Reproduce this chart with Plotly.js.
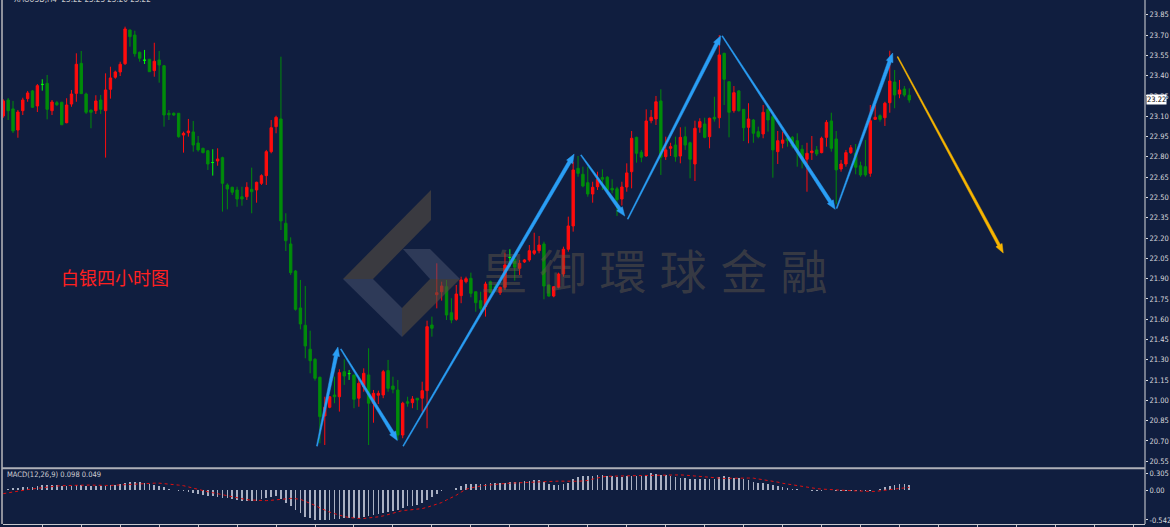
<!DOCTYPE html>
<html>
<head>
<meta charset="utf-8">
<script src="https://cdn.plot.ly/plotly-3.0.1.min.js"></script>
<style>
html,body{margin:0;padding:0;background:#101e3f;}
#chart{width:1170px;height:527px;}
</style>
</head>
<body>
<div id="chart"></div>
<script>
// ---------------- DATA (XAGUSD H4) ----------------
const openP = [23.102,23.220,23.154,22.998,23.141,23.230,23.287,23.176,23.335,23.343,
23.141,23.200,23.203,23.052,23.190,23.269,23.491,23.264,23.146,23.141,
23.220,23.141,23.299,23.388,23.427,23.488,23.737,23.700,23.573,23.514,
23.521,23.437,23.516,23.473,23.122,23.122,23.122,22.961,22.978,22.984,
22.902,22.863,22.845,22.758,22.769,22.794,22.592,22.575,22.555,22.505,
22.505,22.560,22.555,22.604,22.661,22.838,23.023,23.080,22.309,22.156,
21.956,21.683,21.555,21.378,21.304,21.171,20.885,20.949,21.040,21.027,
21.212,21.198,21.188,21.016,21.101,21.188,20.979,21.038,21.040,21.220,
21.106,21.077,20.744,20.990,20.983,21.016,21.016,21.072,21.557,21.781,
21.803,21.840,21.648,21.599,21.774,21.877,21.902,21.803,21.737,21.692,
21.877,21.840,21.796,21.836,22.056,22.043,21.976,22.023,22.038,22.087,
22.106,22.156,21.853,21.771,21.836,21.934,22.117,22.289,22.715,22.671,
22.609,22.525,22.579,22.647,22.649,22.567,22.564,22.488,22.577,22.690,
22.944,22.834,22.806,23.067,23.080,23.213,22.801,22.863,22.887,22.806,
22.949,22.904,22.747,23.018,23.043,22.949,23.092,23.089,23.565,23.355,
23.141,23.287,23.151,23.018,23.072,22.986,22.969,23.151,23.097,22.838,
22.900,22.937,22.944,22.919,22.856,22.782,22.831,22.851,22.831,22.944,
23.065,22.932,22.710,22.747,22.831,22.826,22.734,22.727,22.678,23.077,
23.104,23.089,23.200,23.353,23.264,23.301,23.255];
const highP = [23.225,23.235,23.213,23.146,23.237,23.287,23.294,23.338,23.373,23.405,
23.220,23.213,23.207,23.233,23.294,23.565,23.582,23.274,23.146,23.255,
23.257,23.417,23.466,23.437,23.503,23.762,23.742,23.732,23.577,23.590,
23.521,23.643,23.582,23.479,23.146,23.128,23.122,22.986,23.080,23.065,
22.954,22.867,22.851,22.856,22.863,22.801,22.604,22.579,22.579,22.579,
22.612,22.720,22.616,22.671,22.851,23.072,23.104,23.540,22.383,22.205,
21.964,21.890,21.845,21.515,21.311,21.175,21.027,21.018,21.175,21.230,
21.304,21.225,21.188,21.163,21.237,21.385,21.077,21.072,21.225,21.299,
21.175,21.151,20.990,21.027,21.032,21.016,21.138,21.589,21.619,22.013,
21.877,21.890,21.755,21.853,21.914,21.914,21.944,21.803,21.803,21.877,
21.885,21.860,21.840,22.091,22.117,22.067,22.038,22.045,22.148,22.239,
22.215,22.173,21.853,21.845,21.944,22.136,22.358,22.764,22.806,22.727,
22.727,22.616,22.690,22.708,22.658,22.634,22.579,22.616,22.752,22.991,
22.949,22.851,23.151,23.146,23.250,23.299,22.949,22.904,22.949,23.018,
23.023,22.912,23.067,23.085,23.089,23.089,23.244,23.700,23.569,23.355,
23.323,23.294,23.151,23.196,23.080,23.023,23.183,23.183,23.109,22.991,
22.986,22.967,22.954,22.974,22.887,22.904,22.954,22.880,22.949,23.072,
23.126,22.991,22.777,22.851,22.887,22.895,22.764,22.924,23.183,23.183,
23.114,23.207,23.584,23.442,23.368,23.323,23.306];
const lowP = [23.089,23.072,22.976,22.941,23.109,23.207,23.161,23.131,23.289,23.077,
23.109,23.176,23.035,23.048,23.170,23.207,23.264,23.117,23.011,23.117,
23.117,22.794,23.230,23.377,23.397,23.479,23.614,23.540,23.503,23.486,
23.429,23.392,23.348,23.023,23.072,23.102,22.941,22.831,22.949,22.838,
22.838,22.826,22.703,22.661,22.734,22.395,22.412,22.518,22.431,22.439,
22.481,22.383,22.461,22.592,22.592,22.826,22.974,22.259,22.104,21.927,
21.663,21.525,21.311,21.200,21.146,20.683,20.670,20.942,20.979,20.917,
21.114,21.151,20.942,20.953,21.064,20.670,20.835,20.973,21.016,21.064,
21.052,20.707,20.720,20.953,20.942,20.929,20.917,20.794,21.471,21.680,
21.737,21.594,21.570,21.589,21.718,21.865,21.762,21.655,21.655,21.619,
21.791,21.816,21.779,21.816,21.984,21.885,21.927,22.015,22.025,22.074,
22.087,21.747,21.766,21.762,21.828,21.914,22.099,22.247,22.653,22.575,
22.505,22.461,22.555,22.555,22.535,22.530,22.363,22.440,22.542,22.567,
22.757,22.760,22.801,23.048,23.035,22.666,22.777,22.806,22.764,22.752,
22.851,22.641,22.621,22.978,22.937,22.863,23.060,23.011,23.183,22.944,
23.126,23.134,22.917,22.900,22.904,22.937,22.937,22.986,22.646,22.747,
22.863,22.875,22.863,22.727,22.715,22.542,22.777,22.806,22.826,22.875,
22.838,22.449,22.690,22.727,22.821,22.671,22.653,22.653,22.653,23.072,
23.060,23.028,23.126,23.159,23.233,23.244,23.200];
const closeP = [23.213,23.141,22.991,23.131,23.220,23.272,23.166,23.326,23.335,23.151,
23.205,23.185,23.037,23.183,23.264,23.484,23.267,23.129,23.129,23.213,
23.151,23.294,23.383,23.427,23.484,23.745,23.688,23.562,23.528,23.514,
23.429,23.506,23.479,23.109,23.111,23.109,22.949,22.974,22.991,22.887,
22.851,22.831,22.747,22.758,22.784,22.604,22.562,22.538,22.488,22.488,
22.575,22.542,22.612,22.661,22.838,23.015,23.092,22.326,22.180,21.944,
21.673,21.565,21.402,21.293,21.163,20.880,20.949,21.027,21.027,21.205,
21.180,21.198,21.008,21.126,21.200,20.979,21.052,21.052,21.212,21.089,
21.082,20.744,20.979,20.979,21.010,21.003,21.072,21.545,21.533,21.796,
21.845,21.631,21.594,21.786,21.890,21.899,21.791,21.722,21.680,21.860,
21.796,21.828,21.836,22.001,22.056,21.984,22.013,22.038,22.106,22.106,
22.148,21.845,21.771,21.840,21.934,22.117,22.289,22.703,22.678,22.584,
22.525,22.575,22.634,22.634,22.553,22.555,22.483,22.577,22.681,22.937,
22.826,22.797,23.065,23.092,23.207,22.797,22.851,22.875,22.801,22.944,
22.887,22.782,23.011,23.060,22.944,23.085,23.080,23.553,23.373,23.129,
23.274,23.141,23.015,23.080,22.974,22.949,23.129,23.072,22.851,22.919,
22.924,22.919,22.880,22.845,22.782,22.826,22.843,22.821,22.937,23.055,
22.863,22.703,22.747,22.831,22.867,22.723,22.666,22.666,23.067,23.092,
23.077,23.196,23.360,23.257,23.294,23.257,23.220];
// MACD(12,26,9): main line (histogram) and signal line
const macdMain = [0.005,0.022,0.033,0.039,0.051,0.051,0.062,0.074,0.085,0.097,
0.097,0.091,0.080,0.074,0.074,0.085,0.097,0.080,0.074,0.068,
0.074,0.080,0.091,0.097,0.108,0.131,0.143,0.149,0.143,0.131,
0.108,0.091,0.080,0.051,0.022,0.005,-0.007,-0.024,-0.041,-0.053,
-0.064,-0.082,-0.099,-0.110,-0.122,-0.139,-0.151,-0.168,-0.180,-0.191,
-0.203,-0.203,-0.191,-0.168,-0.151,-0.122,-0.110,-0.168,-0.226,-0.295,
-0.364,-0.422,-0.479,-0.514,-0.537,-0.542,-0.542,-0.537,-0.531,-0.525,
-0.514,-0.508,-0.502,-0.497,-0.485,-0.474,-0.456,-0.439,-0.422,-0.399,
-0.375,-0.353,-0.324,-0.295,-0.283,-0.266,-0.237,-0.180,-0.122,-0.064,
-0.024,-0.001,0.010,0.039,0.080,0.108,0.108,0.120,0.108,0.120,
0.131,0.131,0.131,0.137,0.143,0.143,0.155,0.160,0.166,0.178,
0.178,0.155,0.120,0.097,0.097,0.109,0.133,0.193,0.235,0.253,
0.253,0.265,0.283,0.277,0.265,0.253,0.247,0.247,0.253,0.265,
0.265,0.265,0.283,0.305,0.295,0.283,0.277,0.253,0.235,0.223,
0.217,0.193,0.193,0.193,0.205,0.205,0.205,0.235,0.253,0.235,
0.217,0.217,0.205,0.175,0.145,0.133,0.127,0.115,0.084,0.072,
0.054,0.042,0.024,0.012,0.002,-0.006,-0.012,-0.012,-0.012,-0.004,
0.002,-0.010,-0.012,-0.012,-0.012,-0.012,-0.024,-0.024,-0.012,0.000,
0.012,0.048,0.072,0.084,0.109,0.109,0.098];
const macdSignal = [-0.064,-0.047,-0.030,-0.013,-0.001,0.010,0.022,0.033,0.045,0.062,
0.068,0.074,0.080,0.085,0.085,0.091,0.091,0.091,0.091,0.085,
0.085,0.085,0.085,0.091,0.097,0.103,0.108,0.114,0.120,0.126,
0.126,0.126,0.126,0.120,0.114,0.103,0.091,0.080,0.057,0.033,
0.005,-0.013,-0.030,-0.047,-0.064,-0.087,-0.105,-0.128,-0.145,-0.162,
-0.174,-0.180,-0.185,-0.191,-0.191,-0.185,-0.174,-0.162,-0.156,-0.151,
-0.156,-0.168,-0.203,-0.237,-0.278,-0.324,-0.364,-0.399,-0.427,-0.456,
-0.479,-0.497,-0.508,-0.514,-0.514,-0.508,-0.497,-0.485,-0.468,-0.445,
-0.416,-0.393,-0.370,-0.364,-0.358,-0.353,-0.335,-0.312,-0.283,-0.255,
-0.226,-0.180,-0.139,-0.093,-0.036,0.016,0.039,0.062,0.074,0.085,
0.097,0.103,0.108,0.120,0.126,0.131,0.137,0.143,0.143,0.149,
0.155,0.155,0.158,0.160,0.163,0.160,0.158,0.157,0.160,0.167,
0.175,0.200,0.225,0.240,0.250,0.254,0.256,0.258,0.259,0.261,
0.263,0.264,0.265,0.270,0.276,0.279,0.281,0.283,0.281,0.276,
0.271,0.263,0.255,0.247,0.236,0.226,0.215,0.213,0.211,0.214,
0.218,0.223,0.221,0.219,0.217,0.205,0.193,0.178,0.163,0.145,
0.124,0.109,0.096,0.080,0.064,0.048,0.036,0.027,0.019,0.012,
0.004,-0.001,-0.004,-0.006,-0.010,-0.016,-0.019,-0.021,-0.023,-0.024,
-0.010,0.004,0.012,0.020,0.030,0.040,0.049];
// price scale labels
const priceTicks = [20.55,20.70,20.85,21.00,21.15,21.30,21.45,21.60,21.75,21.90,22.05,22.20,22.35,22.50,22.65,22.80,22.95,23.10,23.25,23.40,23.55,23.70,23.85];
const priceTickText = ['20.55','20.70','20.85','21.00','21.15','21.30','21.45','21.60','21.75','21.90','22.05','22.20','22.35','22.50','22.65','22.80','22.95','23.10','23.25','23.40','23.55','23.70','23.85'];
const macdTicks = [0.305, 0, -0.542];
const macdTickText = ['0.305','0.00','-0.542'];
const lastPrice = 23.22;
// trend arrows: [barFrom, priceFrom, barTo, priceTo]
const blueArrows = [
  [64.4,20.662,68.7,21.394],
  [69.3,21.379,80.9,20.703],
  [82.1,20.662,117.2,22.820],
  [118.6,22.813,127.6,22.362],
  [128.2,22.340,147.3,23.695],
  [147.6,23.693,170.8,22.412],
  [171.1,22.419,182.6,23.567]
];
const yellowArrows = [[183.6,23.540,205.3,22.089]];
const labelText = '白银四小时图';
const watermarkChars = ['皇','御','環','球','金','融'];

// ---------------- geometry ----------------
const W=1170,H=527, ML=3, MR=25, MT=0, MB=3;
const PW=W-ML-MR, PH=H-MT-MB;             // 1142 x 524
const X0=-0.06, X1=234.4;                 // bar index range
const Y0=20.515, Y1=23.959;               // price range
const mainBottomPx=466, macdTopPx=469.5;
const mainDom=[(PH-mainBottomPx)/PH,1];
const macdDom=[0,(PH-macdTopPx)/PH];
const M0=-0.615, M1=0.374;

function toPx(i,p){return [ML+(i-X0)/(X1-X0)*PW, MT+(Y1-p)/(Y1-Y0)*mainBottomPx];}
function toData(x,y){return [X0+(x-ML)/PW*(X1-X0), Y1-(y-MT)/mainBottomPx*(Y1-Y0)];}
function pxPaper(x,y){return [(x-ML)/PW,(PH-(y-MT))/PH];}

const idx = openP.map((_,i)=>i);
const RED='#ff0c0c', GREEN='#008c0a', LIME='#00ff00';
const norm = idx.filter(i=>openP[i]!==closeP[i]);
const doji = idx.filter(i=>openP[i]===closeP[i]);
const pick=(arr,ids)=>ids.map(i=>arr[i]);

const traces=[];
traces.push({type:'candlestick',x:pick(idx,norm),open:pick(openP,norm),high:pick(highP,norm),low:pick(lowP,norm),close:pick(closeP,norm),
  increasing:{line:{color:RED,width:1},fillcolor:RED},decreasing:{line:{color:GREEN,width:1},fillcolor:GREEN},
  whiskerwidth:0,hoverinfo:'skip',xaxis:'x',yaxis:'y',showlegend:false});
traces.push({type:'candlestick',x:pick(idx,doji),open:pick(openP,doji),high:pick(highP,doji),low:pick(lowP,doji),close:pick(closeP,doji),
  increasing:{line:{color:LIME,width:1},fillcolor:LIME},decreasing:{line:{color:LIME,width:1},fillcolor:LIME},
  whiskerwidth:0,hoverinfo:'skip',xaxis:'x',yaxis:'y',showlegend:false});
traces.push({type:'bar',x:idx,y:macdMain,width:0.34,marker:{color:'#a9b0c2',line:{width:0}},hoverinfo:'skip',xaxis:'x2',yaxis:'y2',showlegend:false});
traces.push({type:'scatter',mode:'lines',x:idx,y:macdSignal,line:{color:'#e01010',width:1,dash:'dot'},hoverinfo:'skip',xaxis:'x2',yaxis:'y2',showlegend:false});

// watermark text (drawn over candles, under arrows)
const wmCentersPx=[504,563,623,683,744,804], wmY=277;
const wmPts=wmCentersPx.map(x=>toData(x,wmY));
traces.push({type:'scatter',mode:'text',x:wmPts.map(p=>p[0]),y:wmPts.map(p=>p[1]),text:watermarkChars,
  textposition:'middle center',textfont:{family:'"Noto Sans CJK TC","Noto Sans CJK SC",sans-serif',size:47,color:'rgba(105,92,74,0.45)'},
  hoverinfo:'skip',cliponaxis:false,xaxis:'x',yaxis:'y',showlegend:false});

// ---------------- shapes ----------------
const shapes=[];
function poly(ptsPx,color){
  const p=ptsPx.map(q=>pxPaper(q[0],q[1]));
  return {type:'path',xref:'paper',yref:'paper',layer:'above',path:'M'+p.map(q=>q[0]+','+q[1]).join('L')+'Z',fillcolor:color,line:{width:0}};
}
const DARK='rgba(86,77,65,0.6)', BLUE='rgba(76,86,113,0.5)';
shapes.push(poly([[343,279],[431,190],[431,220],[373,279]],DARK));
shapes.push(poly([[343,279],[373,279],[402,308],[402,337]],BLUE));
shapes.push(poly([[403,249],[430,249],[460,279],[430,279]],BLUE));
shapes.push(poly([[430,279],[460,279],[402,337],[402,308]],DARK));

function arrowShape(a,color,w0,w1,hl,hw){
  const [x0,y0]=toPx(a[0],a[1]), [x1,y1]=toPx(a[2],a[3]);
  const dx=x1-x0, dy=y1-y0, len=Math.hypot(dx,dy), ux=dx/len, uy=dy/len, nx=-uy, ny=ux;
  const bx=x1-ux*hl, by=y1-uy*hl;
  const pts=[[x0+nx*w0/2,y0+ny*w0/2],[bx+nx*w1/2,by+ny*w1/2],[bx+nx*hw/2,by+ny*hw/2],[x1,y1],
             [bx-nx*hw/2,by-ny*hw/2],[bx-nx*w1/2,by-ny*w1/2],[x0-nx*w0/2,y0-ny*w0/2]];
  const d=pts.map(p=>toData(p[0],p[1]));
  return {type:'path',xref:'x',yref:'y',layer:'above',path:'M'+d.map(q=>q[0]+','+q[1]).join('L')+'Z',fillcolor:color,line:{color:color,width:0.5}};
}
blueArrows.forEach(a=>shapes.push(arrowShape(a,'#2a9ef5',1,3.6,9,7)));
yellowArrows.forEach(a=>shapes.push(arrowShape(a,'#f7b500',1,3,9,7)));

const LINE='#c8c8cc';
shapes.push({type:'line',xref:'paper',yref:'paper',x0:1,x1:1,y0:0,y1:1,line:{color:'#d8d8dc',width:1},layer:'above'});
shapes.push({type:'line',xref:'paper',yref:'paper',x0:-1/PW,x1:-1/PW,y0:0,y1:1,line:{color:'#b8b8bc',width:1.5},layer:'above'});
shapes.push({type:'line',xref:'paper',yref:'paper',x0:-1/PW,x1:1,y0:(PH-468.3)/PH,y1:(PH-468.3)/PH,line:{color:'#aeb0b8',width:2},layer:'above'});

// ---------------- annotations ----------------
const lp=pxPaper(114.5,277);
const narrow='"Liberation Sans Narrow","DejaVu Sans Condensed","Liberation Sans",sans-serif';
const annotations=[
  {xref:'paper',yref:'paper',x:lp[0],y:lp[1],xanchor:'center',yanchor:'middle',text:labelText,showarrow:false,
   font:{family:'"Noto Sans CJK SC",sans-serif',size:18,color:'#ff2020'}},
  {xref:'paper',yref:'paper',x:pxPaper(5,474)[0],y:pxPaper(5,474)[1],xanchor:'left',yanchor:'middle',
   text:'MACD(12,26,9) '+macdMain[macdMain.length-1].toFixed(3)+' '+macdSignal[macdSignal.length-1].toFixed(3),showarrow:false,
   font:{family:narrow,size:7.5,color:'#d0d0d4'}},
  {xref:'paper',yref:'y',x:1,y:lastPrice,xanchor:'left',yanchor:'middle',xshift:1,text:lastPrice.toFixed(2),showarrow:false,
   bgcolor:'#ffffff',borderpad:0,font:{family:narrow,size:7.5,color:'#000000'}},
  {xref:'paper',yref:'paper',x:pxPaper(12,0)[0],y:1,xanchor:'left',yanchor:'middle',yshift:1,
   text:'XAGUSD,H4  '+closeP[closeP.length-1].toFixed(2)+' 23.23 23.20 '+closeP[closeP.length-1].toFixed(2),showarrow:false,
   font:{family:narrow,size:8,color:'#c8c8cc'}}
];

const tickFont={family:narrow,size:7.5,color:'#d8d8dc'};
const xTicks=[]; for(let k=8;k<X1;k+=8) xTicks.push(k);
const layout={
  width:W,height:H,margin:{l:ML,r:MR,t:MT,b:MB,pad:0},
  paper_bgcolor:'#101e3f',plot_bgcolor:'#101e3f',showlegend:false,dragmode:false,
  xaxis:{domain:[0,1],anchor:'y',range:[X0,X1],showticklabels:false,showgrid:false,zeroline:false,showline:false,ticks:'',rangeslider:{visible:false},fixedrange:true},
  yaxis:{domain:mainDom,anchor:'x',side:'right',range:[Y0,Y1],tickmode:'array',tickvals:priceTicks,ticktext:priceTickText,ticks:'outside',ticklen:2,tickcolor:'#d8d8dc',
    tickfont:tickFont,showgrid:false,zeroline:false,showline:false,fixedrange:true},
  xaxis2:{domain:[0,1],anchor:'y2',range:[X0,X1],showticklabels:false,showgrid:false,zeroline:false,showline:true,linecolor:LINE,linewidth:1,
    tickmode:'array',tickvals:xTicks,ticks:'outside',ticklen:3,tickcolor:LINE,fixedrange:true},
  yaxis2:{domain:macdDom,anchor:'x2',side:'right',range:[M0,M1],tickmode:'array',tickvals:macdTicks,ticktext:macdTickText,ticks:'outside',ticklen:2,tickcolor:'#d8d8dc',
    tickfont:tickFont,showgrid:false,zeroline:false,showline:false,fixedrange:true},
  shapes:shapes,annotations:annotations,bargap:0
};
Plotly.newPlot('chart',traces,layout,{displayModeBar:false,staticPlot:true});
</script>
</body>
</html>
